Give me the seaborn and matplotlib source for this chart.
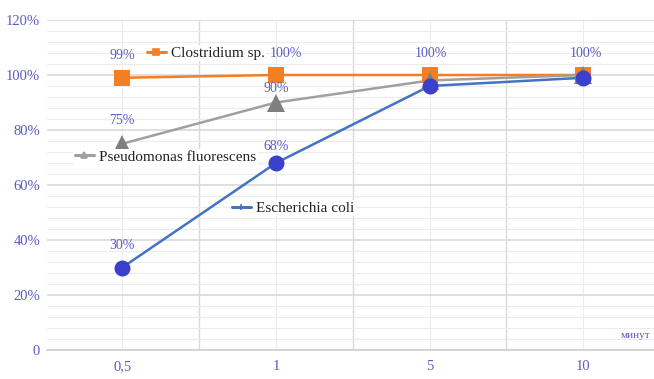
import matplotlib
matplotlib.use("Agg")
import matplotlib.pyplot as plt
from matplotlib.lines import Line2D
from matplotlib.ticker import MultipleLocator, FixedLocator
import seaborn as sns
import pandas as pd

# exposure time categories (minutes)
times = ["0,5", "1", "5", "10"]

# share of inactivated cells, %
clostridium = [99, 100, 100, 100]
pseudomonas = [75, 90, 98, 100]
ecoli = [30, 68, 96, 99]

y_ticks = [0, 20, 40, 60, 80, 100, 120]
y_tick_labels = ["0", "20%", "40%", "60%", "80%", "100%", "120%"]

names = ["Clostridium sp.", "Pseudomonas fluorescens", "Escherichia coli"]
series = [clostridium, pseudomonas, ecoli]

rows = []
for name, vals in zip(names, series):
    for i, (t, v) in enumerate(zip(times, vals)):
        rows.append({"pos": i, "time": t, "value": v, "species": name})
df = pd.DataFrame(rows)

sns.set_theme(style="white")
plt.rcParams["font.family"] = ["Liberation Serif", "DejaVu Serif"]

fig = plt.figure(figsize=(6.54, 3.79), dpi=100)
ax = fig.add_axes([47 / 654, 29 / 379, 607 / 654, 330 / 379])

line_colors = {"Clostridium sp.": "#f57e22",
               "Pseudomonas fluorescens": "#a0a0a0",
               "Escherichia coli": "#4472c4"}
marker_colors = {"Clostridium sp.": "#f57e22",
                 "Pseudomonas fluorescens": "#7f7f7f",
                 "Escherichia coli": "#3a3fcc"}
markers = {"Clostridium sp.": "s",
           "Pseudomonas fluorescens": "^",
           "Escherichia coli": "o"}
sizes = {"Clostridium sp.": 11.5,
         "Pseudomonas fluorescens": 12.5,
         "Escherichia coli": 11.5}

for name in names:
    sub = df[df["species"] == name]
    sns.lineplot(data=sub, x="pos", y="value", ax=ax, color=line_colors[name],
                 linewidth=1.8, sort=False, legend=False, zorder=3)
    ax.plot(sub["pos"], sub["value"], linestyle="none", marker=markers[name],
            markersize=sizes[name], color=marker_colors[name],
            markeredgewidth=0, zorder=4)

label_color = "#5b5bc4"


def value_label(x, y, dx, dy):
    ax.annotate(f"{y}%", (x, y), xytext=(dx, dy), textcoords="offset points",
                ha="center", va="bottom", color=label_color, fontsize=10, zorder=8)


# value labels
value_label(0, clostridium[0], 0, 11)
value_label(1, clostridium[1], 7, 11)
value_label(2, clostridium[2], 1, 11)
value_label(3, clostridium[3], 2, 11)
value_label(0, pseudomonas[0], 0, 12)
value_label(1, pseudomonas[1], 0, 5.5)
value_label(0, ecoli[0], 0, 11)
value_label(1, ecoli[1], 0, 7)

ax.set_xlim(-0.49, 3.46)
ax.set_ylim(0, 120)
ax.set_xticks(range(len(times)))
ax.set_xticklabels(times)
ax.set_yticks(y_ticks)
ax.set_yticklabels(y_tick_labels)
ax.yaxis.set_minor_locator(MultipleLocator(4))
ax.xaxis.set_minor_locator(FixedLocator([-0.5, 0.5, 1.5, 2.5]))
ax.tick_params(axis="both", which="both", length=0, colors=label_color, labelsize=10.5)
ax.tick_params(axis="x", pad=7)
ax.tick_params(axis="y", pad=5)
ax.set_xlabel("")
ax.set_ylabel("")

ax.grid(True, which="major", axis="y", color="#d9d9d9", linewidth=1.2, zorder=0)
ax.grid(True, which="minor", axis="y", color="#ececec", linewidth=0.8, zorder=0)
ax.grid(True, which="major", axis="x", color="#ececec", linewidth=0.8, zorder=0)
ax.grid(True, which="minor", axis="x", color="#d9d9d9", linewidth=1.0, zorder=0)
ax.set_axisbelow(True)
for side in ["top", "right", "left"]:
    ax.spines[side].set_visible(False)
ax.spines["bottom"].set_color("#d0d0d0")
ax.spines["bottom"].set_linewidth(1.2)

ax.text(0.995, 0.03, "минут", transform=ax.transAxes, ha="right", va="bottom",
        color=label_color, fontsize=8, zorder=6)

# inline series keys
legend_spots = {"Clostridium sp.": (145, 53, "s", 4),
                "Pseudomonas fluorescens": (73, 157, "^", 4),
                "Escherichia coli": (230, 208, "+", 5)}
for name in names:
    px, py, mk, ms = legend_spots[name]
    handle = Line2D([], [], color=line_colors[name], linewidth=2.2,
                    marker=mk, markersize=ms, markeredgewidth=1.2,
                    markeredgecolor=line_colors[name])
    leg = fig.legend([handle], [name], loc="center left",
                     bbox_to_anchor=(px / 654, 1 - py / 379),
                     frameon=True, facecolor="white", edgecolor="none",
                     framealpha=1.0, borderpad=0.1, borderaxespad=0,
                     handlelength=1.3, handletextpad=0.3,
                     prop={"family": "Liberation Serif", "size": 11})
    leg.set_zorder(7)
    for t in leg.get_texts():
        t.set_color("#222222")

fig.savefig("out.png", dpi=100, facecolor="white")
